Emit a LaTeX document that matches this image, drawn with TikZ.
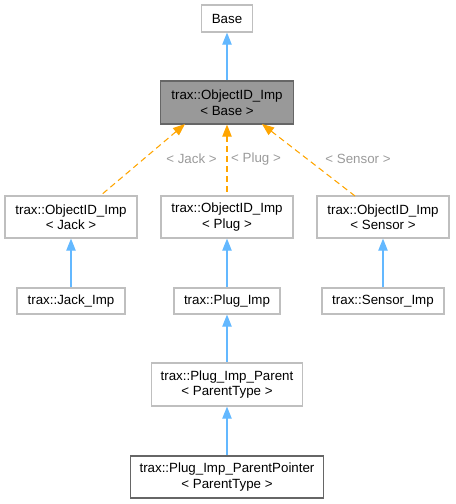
\documentclass[tikz,border=0pt]{standalone}
\usepackage{fontspec}
\setmainfont{Liberation Sans}
\usetikzlibrary{arrows.meta}
\definecolor{boxgray}{HTML}{BFBFBF}
\definecolor{darkbord}{HTML}{666666}
\definecolor{fillgray}{HTML}{999999}
\definecolor{inhblue}{HTML}{63B8FF}
\definecolor{tmplorange}{HTML}{FFA500}
\definecolor{lblgray}{HTML}{9A9A9A}
\tikzset{
  cls/.style={draw=boxgray, line width=0.9pt, fill=white, inner sep=0pt, font=\fontsize{10pt}{11.6pt}\selectfont, align=center},
  inh/.style={draw=inhblue, line width=0.8pt, {Triangle[length=9pt,width=7pt]}-},
  tmpl/.style={draw=tmplorange, line width=0.8pt, dash pattern=on 4.5pt off 3pt, {Triangle[length=9pt,width=7pt,fill=tmplorange]}-},
  lbl/.style={text=lblgray, font=\fontsize{10pt}{11.6pt}\selectfont, inner sep=0pt}
}
\begin{document}
\begin{tikzpicture}[x=0.75pt,y=-0.75pt]
\useasboundingbox (0,0) rectangle (455,504);
\node[cls, minimum width=51*0.75pt, minimum height=27*0.75pt] (base) at (227,18.5) {Base};
\node[cls, draw=darkbord, fill=fillgray, minimum width=133*0.75pt, minimum height=43*0.75pt] (oidbase) at (227,102.5) {trax::ObjectID\_Imp\\< Base >};
\node[cls, minimum width=132*0.75pt, minimum height=42*0.75pt] (oidjack) at (71,217) {trax::ObjectID\_Imp\\< Jack >};
\node[cls, minimum width=132*0.75pt, minimum height=42*0.75pt] (oidplug) at (227,217) {trax::ObjectID\_Imp\\< Plug >};
\node[cls, minimum width=132*0.75pt, minimum height=42*0.75pt] (oidsensor) at (383,217) {trax::ObjectID\_Imp\\< Sensor >};
\node[cls, minimum width=108*0.75pt, minimum height=26*0.75pt] (jackimp) at (71,301) {trax::Jack\_Imp};
\node[cls, minimum width=106*0.75pt, minimum height=26*0.75pt] (plugimp) at (227,301) {trax::Plug\_Imp};
\node[cls, minimum width=122*0.75pt, minimum height=26*0.75pt] (sensorimp) at (383,301) {trax::Sensor\_Imp};
\node[cls, minimum width=151*0.75pt, minimum height=43*0.75pt] (plugparent) at (227,384.5) {trax::Plug\_Imp\_Parent\\< ParentType >};
\node[cls, draw=darkbord, minimum width=193*0.75pt, minimum height=42*0.75pt] (plugptr) at (227,477) {trax::Plug\_Imp\_ParentPointer\\< ParentType >};
\draw[inh] (base.south) -- (oidbase.north);
\draw[tmpl] (185,124) coordinate (tj) -- (100,196) coordinate (fj);
\draw[tmpl] (oidbase.south) -- (oidplug.north);
\draw[tmpl] (262,124) coordinate (ts) -- (355,196) coordinate (fs);
\node[lbl] (ljack) at (191.5,159) {< Jack >};
\node[lbl] (lplug) at (256,159) {< Plug >};
\node[lbl] (lsensor) at (358,159) {< Sensor >};
\draw[inh] (oidjack.south) -- (jackimp.north);
\draw[inh] (oidplug.south) -- (plugimp.north);
\draw[inh] (oidsensor.south) -- (sensorimp.north);
\draw[inh] (plugimp.south) -- (plugparent.north);
\draw[inh] (plugparent.south) -- (plugptr.north);
\end{tikzpicture}
\end{document}
